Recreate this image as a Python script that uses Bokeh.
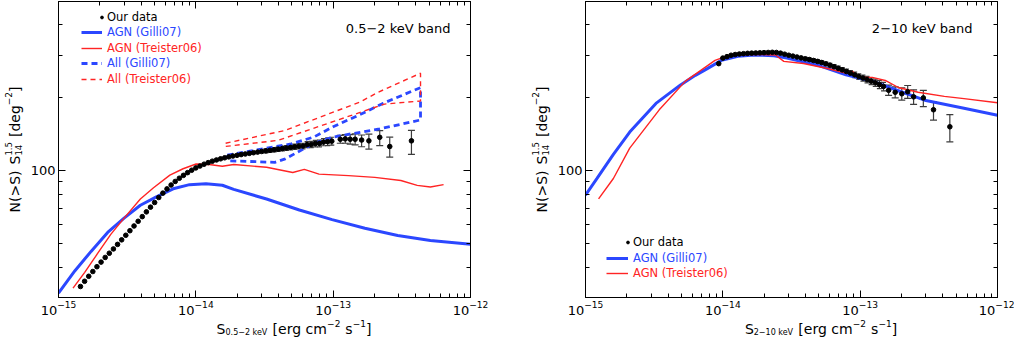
import math
from bokeh.plotting import figure
from bokeh.models import (Range1d, LogAxis, FixedTicker, PrintfTickFormatter,
                          CustomJSTickFormatter, Label, Legend, LegendItem, Whisker,
                          TeeHead, ColumnDataSource)
from bokeh.layouts import row, column
from bokeh.embed import file_html
from bokeh.resources import INLINE

# ---------------- data (flux in units of 1e-15 erg cm^-2 s^-1) ----------------
UNIT = 1e-15

# 0.5-2 keV band : our data (dense part)
soft_s = [1.445, 1.549, 1.660, 1.778, 1.905, 2.042, 2.188, 2.344, 2.512, 2.692,
          2.884, 3.090, 3.311, 3.548, 3.802, 4.074, 4.365, 4.677, 5.012, 5.370,
          5.754, 6.166, 6.607, 7.079, 7.586, 8.128, 8.710, 9.333, 10.00, 10.72,
          11.48, 12.30, 13.18, 14.13, 15.14, 16.22, 17.38, 18.62, 19.95, 21.38,
          22.91, 24.55, 26.30, 28.18, 30.20, 32.36, 34.67, 37.15, 39.81, 42.66,
          45.71, 48.98, 52.48, 56.23, 60.26, 64.57, 69.18, 74.13, 79.43, 85.11, 91.20, 97.72]
soft_n = [33.3, 35.0, 36.7, 38.4, 40.2, 42.0, 43.9, 45.7, 47.6, 49.7,
          51.9, 54.2, 56.6, 59.2, 61.9, 64.7, 67.7, 70.8, 74.0, 77.6,
          80.9, 84.2, 87.4, 90.4, 93.2, 95.8, 98.3, 100.6, 102.8, 104.7,
          106.5, 108.1, 109.6, 110.9, 112.1, 113.2, 114.2, 115.1, 115.9, 116.7,
          117.4, 118.1, 118.8, 119.5, 120.2, 120.9, 121.6, 122.2, 122.9, 123.6,
          124.3, 125.0, 125.7, 126.4, 126.6, 128.3, 128.5, 129.6, 129.8, 131.4, 131.9, 132.6]
soft_err = [0.6, 0.6, 0.6, 0.7, 0.7, 0.7, 0.7, 0.8, 0.8, 0.8,
            0.8, 0.9, 0.9, 0.9, 0.9, 1.0, 1.0, 1.0, 1.1, 1.1,
            1.1, 1.2, 1.2, 1.2, 1.3, 1.3, 1.3, 1.4, 1.4, 1.5,
            1.5, 1.5, 1.6, 1.6, 1.7, 1.7, 1.8, 1.8, 1.9, 2.0,
            2.0, 2.1, 2.2, 2.3, 2.3, 2.4, 2.5, 2.6, 2.7, 2.8,
            2.9, 3.0, 3.1, 3.2, 3.4, 3.6, 3.8, 4.0, 4.2, 4.5, 4.8, 5.0]
# 0.5-2 keV band : our data (bright points)
soft_pt_s = [112.7, 122.5, 133.0, 144.5, 161.1, 182.0, 218.3, 258.2, 371.5]
soft_pt_n = [135, 135.5, 135, 135, 134, 133, 137.5, 126, 133]
soft_pt_lo = [130, 130, 129, 128, 125.7, 123, 127, 114, 117]
soft_pt_hi = [140, 141, 141, 142, 140.6, 141.7, 146.5, 137.7, 147]

# 0.5-2 keV band : models
soft_gilli_s = [1.0, 1.318, 1.726, 2.280, 3.003, 3.945, 5.200, 6.839, 8.995, 11.86,
                15.60, 18.88, 32.73, 56.75, 98.2, 170.2, 295.1, 510.5, 1000]
soft_gilli_n = [31.3, 38.7, 46.5, 55.7, 63.8, 72.1, 78.3, 84.3, 87.7, 88.5,
                87.2, 83.8, 76.5, 68.9, 62.9, 57.9, 54.1, 51.6, 49.8]
soft_treis_s = [1.276, 1.552, 1.932, 2.410, 3.003, 3.945, 4.920, 6.471, 8.072, 10.05,
                12.50, 15.60, 18.88, 32.73, 50.82, 61.66, 78.89, 129.4, 200.9, 311.2,
                409.3, 510.5, 636.8]
soft_treis_n = [32.8, 38.1, 45.7, 54.8, 63.8, 76.5, 85.1, 96.0, 102, 106.7,
                106.2, 104.5, 106.2, 103.5, 98.4, 101.4, 96.9, 95.5, 94.0, 91.2,
                87.1, 85.8, 87.7]
soft_all_treis_s = [16.48, 44.26, 156.7, 211.8, 432.5, 432.5, 236.6, 148.3, 39.72, 16.48]
soft_all_treis_n = [130.0, 146.6, 192.3, 210.9, 252.9, 194.2, 188.6, 172.3, 133.6, 126.1]
soft_all_gilli_s = [16.94, 28.51, 49.43, 72.61, 100.9, 156.7, 230.1, 432.5, 432.5, 217.8,
                    100.9, 72.61, 44.26, 37.58, 17.38, 16.94]
soft_all_gilli_n = [116.2, 122.3, 129.1, 138, 152.5, 170.6, 189.8, 220.6, 162.2, 149,
                    138, 130, 111.7, 108.4, 110, 116.2]

# 2-10 keV band : our data (dense part)
hard_s = [9.333, 10.00, 10.72, 11.48, 12.30, 13.18, 14.13, 15.14, 16.22, 17.38,
          18.62, 19.95, 21.38, 22.91, 24.55, 26.30, 28.18, 30.20, 32.36, 34.67,
          37.15, 39.81, 42.66, 45.71, 48.98, 52.48, 56.23, 60.26, 64.57, 69.18,
          74.13, 79.43, 85.11, 91.20, 97.72, 104.7, 112.2, 120.2, 128.8, 138.0, 147.9]
hard_n = [277, 292, 296, 300, 302, 303.5, 304.5, 305.5, 306, 306.5,
          307, 307.5, 308, 308.5, 308, 306, 303, 300, 297.5, 295,
          292.5, 290, 288, 285.5, 283, 280, 276.5, 273, 269, 265,
          261, 257, 253, 249, 245, 241.5, 238, 234.5, 231, 227, 223]
hard_err = [2.5, 2.5, 2.5, 2.6, 2.6, 2.7, 2.7, 2.8, 2.8, 2.9,
            3.0, 3.0, 3.1, 3.2, 3.3, 3.4, 3.5, 3.6, 3.7, 3.8,
            3.9, 4.0, 4.1, 4.3, 4.4, 4.6, 4.8, 5.0, 5.2, 5.4,
            5.6, 5.8, 6.0, 6.3, 6.6, 6.9, 7.2, 7.5, 8.0, 8.5, 9.0]
hard_pt_s = [161.1, 179.9, 200.9, 221.8, 244.9, 288.4, 342.0, 449.8]
hard_pt_n = [215, 211, 208, 212, 202, 200, 178.7, 152]
hard_pt_lo = [205, 200, 196, 199, 188, 184, 162, 131.8]
hard_pt_hi = [226, 222, 220, 225, 216, 215, 192.6, 170.6]

# 2-10 keV band : models
hard_gilli_s = [1.0, 1.213, 1.596, 2.099, 3.258, 4.920, 6.310, 7.430, 9.772, 12.88,
                16.94, 23.55, 29.31, 50.82, 78.89, 122.5, 189.7, 295.1, 570.2, 1000]
hard_gilli_n = [79.3, 93, 117, 144.5, 189.8, 226.3, 247.8, 261, 285.6, 297,
                300.8, 298.8, 292, 271.3, 249, 234.4, 214.1, 195.7, 181.2, 169.5]
hard_treis_s = [1.245, 1.596, 2.099, 3.443, 5.346, 8.770, 10.91, 16.94, 24.21, 27.80,
                38.64, 56.75, 78.89, 88.10, 98.17, 122.5, 152.4, 189.7, 264.2, 410.2,
                570.2, 1000]
hard_treis_n = [76.6, 93, 124, 178.6, 234.6, 285.6, 298.8, 303, 300.8, 283,
                277.5, 265, 253, 257, 243, 243, 236, 220.8, 211, 203,
                198.6, 191]

# axes
X_RANGE = (1e-15, 1e-12)
Y_RANGE = (30, 500)
X_MAJOR = [1e-15, 1e-14, 1e-13, 1e-12]
Y_MAJOR = [100]
Y_MINOR = [40, 50, 60, 70, 80, 90, 200, 300, 400]

# ---------------- style ----------------
BLUE = "#2b47ff"
RED = "#ff2424"
ERRC = "#3c3c3c"
FONT = "DejaVu Sans"
FW, FH = 415, 296          # frame size
BT, BB, BL = 1, 20, 28     # borders
YT_W = 27                  # width of the y-title strip
XT_H = 21                  # height of the x-title strip
BR1, BR2 = 57, 17          # right borders
PH = BT + FH + BB

W = {'S': 635, '0': 636, '.': 318, '5': 636, '\u2212': 838, '2': 636, ' ': 318,
     'k': 579, 'e': 615, 'V': 684, '[': 390, 'r': 411, 'g': 635, 'c': 550,
     'm': 974, 's': 521, '1': 636, ']': 390, 'N': 748, '(': 390, '>': 838,
     ')': 390, 'd': 635, '4': 636}


def tw(t, size):
    return sum(W.get(c, 600) for c in t) * size / 1000.0


def sc(vals):
    return [v * UNIT for v in vals]


def blank_fig(w, h):
    f = figure(width=w, height=h, x_range=Range1d(0, 1), y_range=Range1d(0, 1),
               x_axis_location=None, y_axis_location=None,
               output_backend="svg", toolbar_location=None, min_border=0)
    f.grid.visible = False
    f.outline_line_color = None
    f.background_fill_color = "white"
    f.border_fill_color = "white"
    return f


def rich_label(p, pieces, vertical, base, center):
    def adv(pc):
        if pc[0] == "gap":
            return pc[1]
        if pc[0] == "stack":
            return max(tw(t, s) for t, s, _ in pc[1:])
        return tw(pc[0], pc[1])
    pos = center - sum(adv(pc) for pc in pieces) / 2.0
    for pc in pieces:
        if pc[0] == "gap":
            pos += pc[1]
            continue
        items = pc[1:] if pc[0] == "stack" else [pc]
        for t, s, sh in items:
            kw = dict(x_units="screen", y_units="screen", text=t, text_font=FONT,
                      text_font_size=f"{s}px", text_align="left",
                      text_baseline="alphabetic", text_color="black")
            if vertical:
                lab = Label(x=base - sh, y=pos, angle=math.pi / 2, **kw)
            else:
                lab = Label(x=pos, y=base + sh, **kw)
            p.add_layout(lab)
        pos += adv(pc)


def style_axis(ax):
    ax.axis_line_color = "black"
    ax.axis_line_width = 1
    ax.major_tick_in = 7
    ax.major_tick_out = 0
    ax.minor_tick_in = 4
    ax.minor_tick_out = 0
    ax.major_tick_line_color = "black"
    ax.minor_tick_line_color = "black"
    ax.major_label_text_font = FONT
    ax.major_label_text_font_size = "13px"
    ax.major_label_text_color = "black"


def make_fig(br):
    p = figure(width=BL + FW + br, height=PH,
               x_axis_type="log", y_axis_type="log",
               x_range=Range1d(*X_RANGE), y_range=Range1d(*Y_RANGE),
               output_backend="svg", toolbar_location=None,
               min_border_left=BL, min_border_right=br,
               min_border_top=BT, min_border_bottom=BB)
    p.grid.visible = False
    p.outline_line_color = "black"
    p.background_fill_color = "white"
    p.border_fill_color = "white"
    x_minor = [m * d for d in X_MAJOR[:-1] for m in range(2, 10)]
    xt = FixedTicker(ticks=X_MAJOR, minor_ticks=x_minor)
    yt = FixedTicker(ticks=Y_MAJOR, minor_ticks=Y_MINOR)
    p.xaxis.ticker = xt
    p.yaxis.ticker = yt
    p.yaxis.formatter = PrintfTickFormatter(format="%d")
    for ax in p.xaxis + p.yaxis:
        style_axis(ax)
    p.xaxis.major_label_standoff = 3
    p.yaxis.major_label_standoff = 3
    top = LogAxis(ticker=xt, formatter=CustomJSTickFormatter(code="return ''"))
    right = LogAxis(ticker=yt, formatter=CustomJSTickFormatter(code="return ''"))
    for ax in (top, right):
        style_axis(ax)
        ax.major_label_standoff = 0
    p.add_layout(top, "above")
    p.add_layout(right, "right")
    return p


def x_title(width, sub_text):
    f = blank_fig(width, XT_H)
    rich_label(f, [("S", 14, 0), (sub_text, 8, -4), ("gap", 5), ("[erg cm", 14, 0),
                   ("\u22122", 9, 5.5), ("gap", 5), ("s", 14, 0), ("\u22121", 9, 5.5), ("]", 14, 0)],
               vertical=False, base=10, center=BL + FW / 2)
    return f


def y_title():
    f = blank_fig(YT_W, PH)
    rich_label(f, [("N(>S)", 14, 0), ("gap", 6), ("S", 14, 0),
                   ("stack", ("1.5", 8.5, 6), ("14", 8.5, -4)), ("gap", 5),
                   ("[deg", 14, 0), ("\u22122", 9, 6), ("]", 14, 0)],
               vertical=True, base=14, center=PH - BT - FH / 2)
    return f


def add_legend(p, label, rend, x, yc, color, gw, standoff):
    lg = Legend(items=[LegendItem(label=label, renderers=[rend])],
                location=(x, FH - yc - 7),
                label_text_color=color, label_text_font=FONT,
                label_text_font_size="11.5px", glyph_width=gw, glyph_height=14,
                label_height=14, label_standoff=standoff, padding=0, margin=0,
                spacing=0, border_line_color=None, background_fill_alpha=0,
                label_text_baseline="middle")
    p.add_layout(lg)


def add_data(p, s, n, err, pt_s, pt_n, pt_lo, pt_hi, min_err):
    xs = sc(s) + sc(pt_s)
    ys = n + pt_n
    # dense points: error bars drawn where they are larger than the dots
    dsrc = ColumnDataSource(dict(
        x=[x for x, e in zip(sc(s), err) if e >= min_err],
        lo=[a - e for a, e in zip(n, err) if e >= min_err],
        hi=[a + e for a, e in zip(n, err) if e >= min_err]))
    psrc = ColumnDataSource(dict(x=sc(pt_s), lo=pt_lo, hi=pt_hi))
    for src, hs in ((dsrc, 5), (psrc, 7)):
        wk = Whisker(source=src, base="x", upper="hi", lower="lo", dimension="height",
                     line_color=ERRC, line_width=1.2, level="underlay",
                     upper_head=TeeHead(size=hs, line_color=ERRC, line_width=1.2),
                     lower_head=TeeHead(size=hs, line_color=ERRC, line_width=1.2))
        p.add_layout(wk)
    src = ColumnDataSource(dict(x=xs, y=ys))
    return p.scatter("x", "y", source=src, size=4.6, color="black", marker="circle")


# ---------------- left panel: 0.5-2 keV ----------------
p1 = make_fig(BR1)
r_ag = p1.line(sc(soft_gilli_s), soft_gilli_n, line_color=BLUE, line_width=3)
r_at = p1.line(sc(soft_treis_s), soft_treis_n, line_color=RED, line_width=1.4)
r_allg = p1.line(sc(soft_all_gilli_s), soft_all_gilli_n, line_color=BLUE, line_width=2.8,
                 line_dash="6 4")
r_allt = p1.line(sc(soft_all_treis_s), soft_all_treis_n, line_color=RED, line_width=1.4,
                 line_dash="5 4")
r_d1 = add_data(p1, soft_s, soft_n, soft_err, soft_pt_s, soft_pt_n, soft_pt_lo, soft_pt_hi, 2.4)

rows = [16 + 15.4 * i for i in range(5)]
add_legend(p1, "Our data", r_d1, 40, rows[0], "black", 7, 2)
add_legend(p1, "AGN (Gilli07)", r_ag, 23, rows[1], BLUE, 21, 5)
add_legend(p1, "AGN (Treister06)", r_at, 23, rows[2], RED, 21, 5)
add_legend(p1, "All (Gilli07)", r_allg, 23, rows[3], BLUE, 21, 5)
add_legend(p1, "All (Treister06)", r_allt, 23, rows[4], RED, 21, 5)
p1.add_layout(Label(x=FW - 23, y=FH - 27, x_units="screen", y_units="screen",
                    text="0.5\u22122 keV band", text_font=FONT, text_font_size="13px",
                    text_align="right", text_baseline="middle", text_color="black"))

# ---------------- right panel: 2-10 keV ----------------
p2 = make_fig(BR2)
r_hg = p2.line(sc(hard_gilli_s), hard_gilli_n, line_color=BLUE, line_width=3)
r_ht = p2.line(sc(hard_treis_s), hard_treis_n, line_color=RED, line_width=1.4)
r_d2 = add_data(p2, hard_s, hard_n, hard_err, hard_pt_s, hard_pt_n, hard_pt_lo, hard_pt_hi, 4.0)

rows2 = [241, 256.5, 272]
add_legend(p2, "Our data", r_d2, 39, rows2[0], "black", 7, 2)
add_legend(p2, "AGN (Gilli07)", r_hg, 21, rows2[1], BLUE, 22, 5)
add_legend(p2, "AGN (Treister06)", r_ht, 21, rows2[2], RED, 22, 5)
p2.add_layout(Label(x=FW - 28, y=FH - 27, x_units="screen", y_units="screen",
                    text="2\u221210 keV band", text_font=FONT, text_font_size="13px",
                    text_align="right", text_baseline="middle", text_color="black"))

layout = row(y_title(), column(p1, x_title(BL + FW + BR1, "0.5\u22122 keV")),
             y_title(), column(p2, x_title(BL + FW + BR2, "2\u221210 keV")))
open("out.html", "w").write(file_html(layout, INLINE, title="logN-logS"))
